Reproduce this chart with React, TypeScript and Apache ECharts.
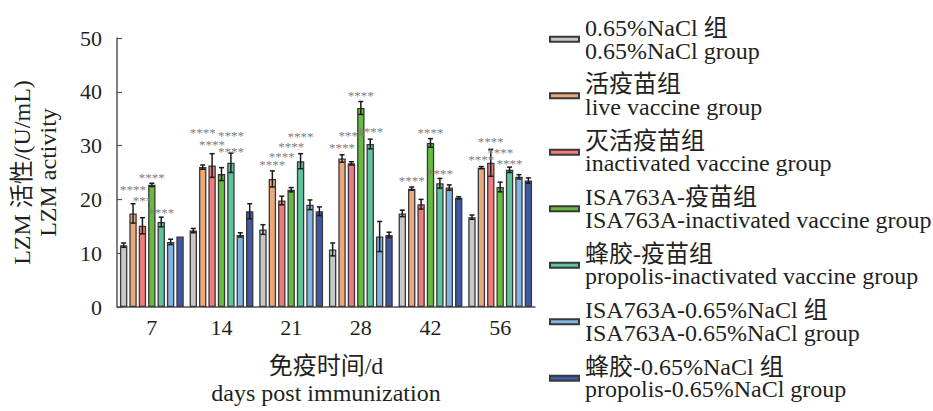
import React, { useEffect, useRef } from "react";
import * as echarts from "echarts";

const categories = ["7", "14", "21", "28", "42", "56"];
const seriesNames = [
  "0.65%NaCl 组\n0.65%NaCl group",
  "活疫苗组\nlive vaccine group",
  "灭活疫苗组\ninactivated vaccine group",
  "ISA763A-疫苗组\nISA763A-inactivated vaccine group",
  "蜂胶-疫苗组\npropolis-inactivated vaccine group",
  "ISA763A-0.65%NaCl 组\nISA763A-0.65%NaCl group",
  "蜂胶-0.65%NaCl 组\npropolis-0.65%NaCl group",
];
const colors = ["#c8c8c8", "#eba97b", "#ef7b7b", "#67bb3c", "#5ec49b", "#7fb3e2", "#3e57a7"];

const naclMean = [11.5, 14.2, 14.4, 10.7, 17.4, 16.7];
const liveMean = [17.4, 26.0, 23.8, 27.6, 22.0, 25.9];
const inactMean = [15.1, 26.3, 19.8, 26.7, 19.1, 26.8];
const isaVacMean = [22.7, 24.7, 21.8, 37.0, 30.5, 22.3];
const propVacMean = [15.8, 26.8, 27.1, 30.3, 23.0, 25.5];
const isaNaclMean = [12.1, 13.4, 19.0, 13.1, 22.2, 24.2];
const propNaclMean = [13.1, 17.8, 17.8, 13.4, 20.3, 23.5];

const naclSd = [0.4, 0.4, 0.9, 1.2, 0.6, 0.4];
const liveSd = [1.8, 0.4, 1.5, 0.7, 0.3, 0.2];
const inactSd = [1.5, 2.2, 0.8, 0.3, 0.9, 2.5];
const isaVacSd = [0.3, 1.2, 0.4, 1.2, 0.8, 0.9];
const propVacSd = [0.9, 1.8, 1.4, 0.9, 0.9, 0.5];
const isaNaclSd = [0.5, 0.4, 0.9, 2.8, 0.5, 0.4];
const propNaclSd = [0, 1.4, 0.8, 0.5, 0.2, 0.5];

// significance marks: category index, bar index, text, value level
const sigCat = [0, 0, 0, 0, 1, 1, 1, 1, 2, 2, 2, 2, 3, 3, 3, 3, 4, 4, 4, 5, 5, 5, 5];
const sigBar = [1, 2, 3, 4, 1, 2, 4, 4, 1, 2, 3, 4, 1, 2, 3, 4, 1, 3, 4, 1, 2, 3, 4];
const sigText = ["****", "***", "****", "****", "****", "****", "****", "****", "****", "****", "****", "****", "****", "****", "****", "****", "****", "****", "****", "****", "****", "****", "****"];
const sigLevel = [22.4, 20.3, 24.7, 18.2, 32.9, 30.7, 32.4, 29.4, 27.1, 28.6, 30.3, 32.2, 30.2, 32.5, 39.8, 33.2, 24.0, 32.9, 25.4, 27.9, 31.3, 29.3, 27.2];

const means = [naclMean, liveMean, inactMean, isaVacMean, propVacMean, isaNaclMean, propNaclMean];
const sds = [naclSd, liveSd, inactSd, isaVacSd, propVacSd, isaNaclSd, propNaclSd];

const FONT = "'Liberation Serif', 'Noto Sans CJK SC', serif";
const TEXT = "#231f20";
const STAR = "#808080";
const BAR_W = 7.4;
const GAP = 2;
const STEP = BAR_W + GAP;

export default function App() {
  const ref = useRef<HTMLDivElement>(null);
  useEffect(() => {
    document.body.style.margin = "0";
    const chart = echarts.init(ref.current!, null, { renderer: "svg" });

    const errData: number[][] = [];
    means.forEach((arr, si) => arr.forEach((m, ci) => errData.push([ci, si, m, sds[si][ci]])));
    const sigData = sigCat.map((c, i) => [c, sigBar[i], sigLevel[i], i]);

    const barSeries = means.map((arr, si) => ({
      type: "bar",
      name: seriesNames[si],
      data: arr,
      barWidth: BAR_W,
      barGap: (GAP / BAR_W) * 100 + "%",
      itemStyle: { color: colors[si], borderColor: "#383838", borderWidth: 1.3 },
      z: 2,
    }));

    chart.setOption({
      animation: false,
      grid: { left: 117, top: 38, right: 398, bottom: 99 },
      legend: {
        orient: "vertical",
        left: 544,
        top: 11,
        itemWidth: 29,
        itemHeight: 5,
        itemGap: 10,
        icon: "rect",
        data: seriesNames,
        textStyle: { fontFamily: FONT, fontSize: 24, lineHeight: 22.5, color: TEXT, padding: [0, 0, 0, 1] },
      },
      xAxis: {
        type: "category",
        data: categories,
        name: "免疫时间/d\ndays post immunization",
        nameLocation: "middle",
        nameGap: 45,
        nameTextStyle: { fontFamily: FONT, fontSize: 24, lineHeight: 27, color: TEXT, verticalAlign: "top" },
        axisLine: { lineStyle: { color: "#555", width: 1.5 } },
        axisTick: { alignWithLabel: true, inside: true, length: 4, lineStyle: { color: "#333", width: 1.2 } },
        axisLabel: { fontFamily: FONT, fontSize: 22, color: TEXT, margin: 9 },
      },
      yAxis: {
        type: "value",
        min: 0,
        max: 50,
        interval: 10,
        name: "LZM 活性/(U/mL)\nLZM activity",
        nameLocation: "middle",
        nameRotate: 90,
        nameGap: 56,
        nameTextStyle: { fontFamily: FONT, fontSize: 24, lineHeight: 26, color: TEXT },
        axisLine: { show: true, lineStyle: { color: "#555", width: 1.5 } },
        axisTick: { show: true, inside: true, length: 5, lineStyle: { color: "#555", width: 1.2 } },
        splitLine: { show: false },
        axisLabel: { fontFamily: FONT, fontSize: 22, color: TEXT, margin: 15 },
      },
      series: [
        ...barSeries,
        {
          type: "custom",
          name: "err",
          z: 5,
          itemStyle: { color: "#1a1a1a" },
          data: errData,
          renderItem: (params: any, api: any) => {
            const ci = api.value(0);
            const si = api.value(1);
            const m = api.value(2);
            const sd = api.value(3);
            if (!sd) return null;
            const base = api.coord([ci, m]);
            const x = base[0] + (si - 3) * STEP;
            const yt = api.coord([ci, m + sd])[1];
            const yb = api.coord([ci, m - sd])[1];
            const st = { stroke: "#1a1a1a", lineWidth: 1.5 };
            return {
              type: "group",
              children: [
                { type: "line", shape: { x1: x, y1: yt, x2: x, y2: yb }, style: st },
                { type: "line", shape: { x1: x - 2.5, y1: yt, x2: x + 2.5, y2: yt }, style: st },
                { type: "line", shape: { x1: x - 2.5, y1: yb, x2: x + 2.5, y2: yb }, style: st },
              ],
            };
          },
        },
        {
          type: "custom",
          name: "sig",
          z: 6,
          itemStyle: { color: STAR },
          data: sigData,
          renderItem: (params: any, api: any) => {
            const ci = api.value(0);
            const bi = api.value(1);
            const lv = api.value(2);
            const idx = api.value(3);
            const p = api.coord([ci, lv]);
            return {
              type: "text",
              x: p[0] + (bi - 3) * STEP,
              y: p[1] + 3,
              style: {
                text: sigText[idx],
                fill: STAR,
                fontSize: 13,
                fontFamily: "'Liberation Serif'",
                align: "center",
                verticalAlign: "middle",
              },
            };
          },
        },
      ],
    });
    return () => chart.dispose();
  }, []);
  return <div ref={ref} style={{ width: 933, height: 411 }} />;
}
